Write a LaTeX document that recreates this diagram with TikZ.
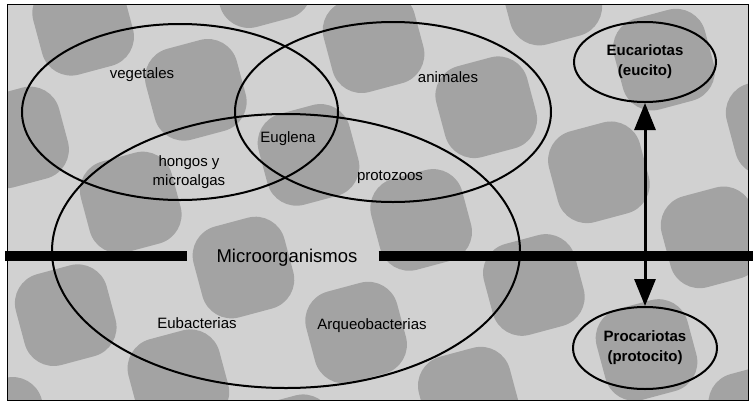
\documentclass[tikz,border=0pt]{standalone}
\usepackage{fontspec}
\setmainfont{Liberation Sans}
\usepackage{tikz}
\usetikzlibrary{positioning}
\usetikzlibrary{shapes.geometric}
\usetikzlibrary{arrows.meta}
\definecolor{bgpale}{gray}{0.82}
\definecolor{bgdark}{gray}{0.64}
\tikzset{
  ring/.style={ellipse, draw, line width=2pt, inner sep=0pt},
  lbl/.style={font=\fontsize{15}{19}\selectfont, align=center, inner sep=0pt},
  cellbox/.style={ring, font=\bfseries\fontsize{15}{20}\selectfont, align=center},
  bar/.style={line width=10pt},
  link/.style={line width=3pt, {Triangle[length=27pt,width=21pt]}-{Triangle[length=27pt,width=21pt]}}
}

\begin{document}
\begin{tikzpicture}[x=1pt,y=-1pt]
\useasboundingbox (0,0) rectangle (753,405);
% fondo
\fill[bgpale] (7,4) rectangle (748,400);
\begin{scope}
 \clip (7,4) rectangle (748,400);
 \foreach \i in {-2,...,9}{
  \foreach \j in {-2,...,5}{
   \pgfmathtruncatemacro\chk{mod(\i+\j+20,2)}
   \ifnum\chk=0
    \fill[bgdark, rounded corners=30pt, rotate around={15:(376,202)}] (\i*92,\j*92) rectangle ++(94,94);
   \fi
  }
 }
\end{scope}
\draw[line width=0.8pt] (7,4) rectangle (748,400);

\node[ring, minimum width=316pt, minimum height=176pt] (veg) at (180,112) {};
\node[ring, minimum width=316pt, minimum height=180pt] (ani) at (393,112) {};
\node[ring, minimum width=468pt, minimum height=274pt] (micro) at (286,251) {};

\node[lbl] (vegt) at (142,75) {vegetales};
\node[lbl] (anit) at (448,77) {animales};
\node[lbl] (eug) at (288,139) {Euglena};
\node[lbl] (hon) at (189,172) {hongos y\\microalgas};
\node[lbl] (pzo) at (390,177) {protozoos};
\node[lbl] (eub) at (197,323) {Eubacterias};
\node[lbl] (arq) at (372,326) {Arqueobacterias};
\node[lbl, font=\fontsize{18.5}{22}\selectfont] (mic) at (287,258) {Microorganismos};

\coordinate (barL) at (5,256);
\coordinate (barR) at (753,256);
\path (barL -| mic.west) coordinate (gapL);
\path (barL -| mic.east) coordinate (gapR);
\draw[bar] (barL) -- ([xshift=-29pt]gapL);
\draw[bar] ([xshift=21pt]gapR) -- (barR);

\node[cellbox, minimum width=142pt, minimum height=80pt] (euc) at (645,62) {Eucariotas\\(eucito)};
\node[cellbox, minimum width=144pt, minimum height=82pt, below=203pt of euc] (pro) {Procariotas\\(protocito)};
\draw[link] (euc) -- (pro);
\end{tikzpicture}
\end{document}
